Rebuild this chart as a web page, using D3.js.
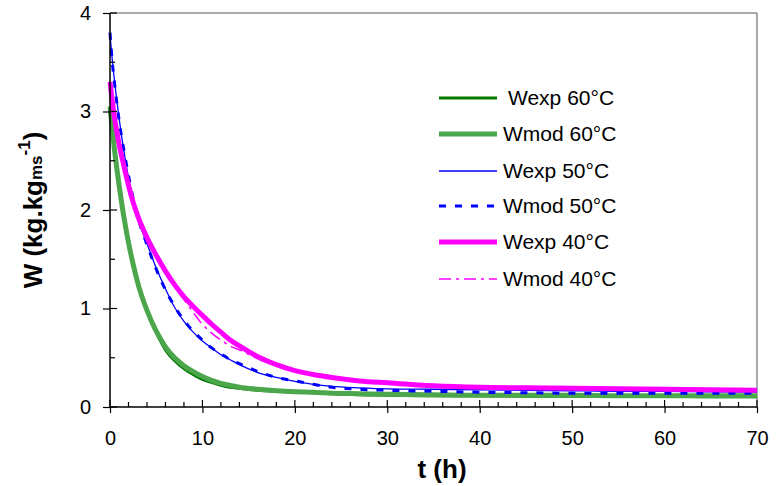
<!DOCTYPE html>
<html>
<head>
<meta charset="utf-8">
<script src="https://cdn.jsdelivr.net/npm/d3@7"></script>
<style>
  html, body { margin: 0; padding: 0; background: #fff; }
  svg { display: block; }
  text { font-family: Arial, "Liberation Sans", sans-serif; fill: #000; }
</style>
</head>
<body>
<svg id="chart" width="776" height="486"></svg>
<script>
// Drying time (h)
const timeH = [0, 0.25, 0.5, 1, 1.5, 2, 2.5, 3, 4, 5, 6, 7, 8, 9, 10, 11, 12, 13, 14, 16, 18, 20, 22, 24, 27, 30, 35, 40, 45, 50, 55, 60, 65, 70];

// Moisture content W (kg/kg dry matter), experimental and model, per temperature
const wExp60 = [3.05, 2.80, 2.60, 2.25, 1.93, 1.66, 1.44, 1.25, 0.98, 0.76, 0.58, 0.47, 0.39, 0.33, 0.28, 0.25, 0.22, 0.20, 0.19, 0.17, 0.16, 0.15, 0.145, 0.14, 0.125, 0.12, 0.115, 0.115, 0.11, 0.11, 0.11, 0.11, 0.105, 0.105];
const wMod60 = [3.05, 2.81, 2.60, 2.24, 1.93, 1.67, 1.45, 1.26, 0.98, 0.77, 0.61, 0.50, 0.42, 0.36, 0.31, 0.27, 0.24, 0.22, 0.20, 0.18, 0.165, 0.155, 0.15, 0.14, 0.135, 0.13, 0.125, 0.12, 0.12, 0.12, 0.115, 0.115, 0.115, 0.115];
const wExp50 = [3.78, 3.52, 3.30, 2.92, 2.60, 2.33, 2.10, 1.92, 1.66, 1.41, 1.20, 1.01, 0.87, 0.76, 0.67, 0.60, 0.53, 0.48, 0.43, 0.35, 0.30, 0.26, 0.23, 0.21, 0.195, 0.185, 0.18, 0.175, 0.17, 0.165, 0.16, 0.16, 0.155, 0.15];
const wMod50 = [3.80, 3.50, 3.28, 2.90, 2.61, 2.35, 2.12, 1.93, 1.65, 1.40, 1.19, 1.02, 0.88, 0.77, 0.68, 0.60, 0.54, 0.48, 0.44, 0.36, 0.30, 0.265, 0.23, 0.20, 0.18, 0.17, 0.16, 0.15, 0.145, 0.14, 0.14, 0.14, 0.14, 0.14];
const wExp40 = [3.30, 3.10, 2.93, 2.66, 2.45, 2.25, 2.08, 1.94, 1.72, 1.54, 1.38, 1.24, 1.12, 1.02, 0.93, 0.84, 0.76, 0.68, 0.62, 0.51, 0.43, 0.37, 0.33, 0.30, 0.265, 0.245, 0.215, 0.20, 0.195, 0.19, 0.185, 0.18, 0.175, 0.17];
const wMod40 = [3.30, 3.09, 2.92, 2.65, 2.43, 2.24, 2.07, 1.93, 1.71, 1.53, 1.37, 1.22, 1.09, 0.96, 0.84, 0.75, 0.68, 0.62, 0.58, 0.49, 0.42, 0.365, 0.325, 0.295, 0.26, 0.24, 0.215, 0.20, 0.195, 0.19, 0.185, 0.18, 0.175, 0.17];

const seriesNames = ["Wexp 60°C", "Wmod 60°C", "Wexp 50°C", "Wmod 50°C", "Wexp 40°C", "Wmod 40°C"];
const seriesValues = [wExp60, wMod60, wExp50, wMod50, wExp40, wMod40];

const xTicks = [0, 10, 20, 30, 40, 50, 60, 70];
const xMinorTicks = d3.range(0, 70.01, 2);
const yTicks = [0, 1, 2, 3, 4];
const yMinorTicks = [0.5, 1.5, 2.5, 3.5];

// Line styles for each series
const styles = [
  { color: "#007a00", width: 3, dash: null },
  { color: "#4ca64c", width: 5, dash: null },
  { color: "#0000ff", width: 1.3, dash: null },
  { color: "#0000ff", width: 3, dash: "7,9" },
  { color: "#ff00ff", width: 5, dash: null },
  { color: "#ff00ff", width: 1.5, dash: "12,5,3,5" }
];

const svg = d3.select("#chart");
const x = d3.scaleLinear().domain([0, 70]).range([110, 757]);
const y = d3.scaleLinear().domain([0, 4]).range([407, 13]);

// Plot frame (top and right)
svg.append("path")
  .attr("d", `M${x(0)},${y(4)}H${x(70)}V${y(0)}`)
  .attr("fill", "none").attr("stroke", "#555").attr("stroke-width", 1);

// Curves
const line = d3.line()
  .x((d, i) => x(timeH[i]))
  .y(d => y(d))
  .curve(d3.curveMonotoneX);

seriesValues.forEach((vals, k) => {
  const s = styles[k];
  svg.append("path")
    .datum(vals)
    .attr("d", line)
    .attr("fill", "none")
    .attr("stroke", s.color)
    .attr("stroke-width", s.width)
    .attr("stroke-dasharray", s.dash)
    .attr("stroke-linejoin", "round");
});

// Axes
const xAxis = svg.append("g")
  .attr("transform", `translate(0,${y(0)})`)
  .call(d3.axisBottom(x).tickValues(xTicks).tickSize(6).tickPadding(18).tickFormat(d3.format("d")));
const yAxis = svg.append("g")
  .attr("transform", `translate(${x(0)},0)`)
  .call(d3.axisLeft(y).tickValues(yTicks).tickSize(7).tickPadding(12).tickFormat(d3.format("d")));

[xAxis, yAxis].forEach(g => {
  g.select(".domain").attr("stroke", "#000").attr("stroke-width", 1.5);
  g.selectAll(".tick line").attr("stroke", "#000").attr("stroke-width", 1.2);
  g.selectAll(".tick text").attr("font-size", 20).attr("font-family", "Arial, 'Liberation Sans', sans-serif").attr("fill", "#000");
});
yAxis.select(".domain").attr("d", `M0,${y(4)}V${y(0)}`);
xAxis.select(".domain").attr("d", `M${x(0)},0H${x(70)}`);

// Inner ticks (major crossing, minor inside)
svg.append("g").selectAll("line")
  .data(xMinorTicks)
  .join("line")
  .attr("x1", d => x(d)).attr("x2", d => x(d))
  .attr("y1", y(0)).attr("y2", d => y(0) - (d % 10 === 0 ? 7 : 5))
  .attr("stroke", "#000").attr("stroke-width", 1.2);
svg.append("g").selectAll("line")
  .data(yTicks.concat(yMinorTicks))
  .join("line")
  .attr("y1", d => y(d)).attr("y2", d => y(d))
  .attr("x1", x(0)).attr("x2", d => x(0) + (Number.isInteger(d) ? 7 : 5))
  .attr("stroke", "#000").attr("stroke-width", 1.2);

// Axis titles
svg.append("text")
  .attr("x", 442).attr("y", 478)
  .attr("text-anchor", "middle")
  .attr("font-size", 26).attr("font-weight", "bold")
  .text("t (h)");

const yTitle = svg.append("text")
  .attr("transform", "translate(42,210) rotate(-90)")
  .attr("text-anchor", "middle")
  .attr("font-size", 26).attr("font-weight", "bold");
yTitle.append("tspan").text("W (kg.kg");
yTitle.append("tspan").attr("font-size", 17).attr("dy", 0).text("ms");
yTitle.append("tspan").attr("font-size", 17).attr("dy", -12).text("-1");
yTitle.append("tspan").attr("dy", 12).text(")");

// Legend
const legendRows = [98, 134, 171, 206, 242, 279];
const legend = svg.append("g");
seriesNames.forEach((name, k) => {
  const s = styles[k];
  const ly = legendRows[k];
  legend.append("line")
    .attr("x1", 439).attr("x2", 497).attr("y1", ly).attr("y2", ly)
    .attr("stroke", s.color).attr("stroke-width", s.width)
    .attr("stroke-dasharray", s.dash);
  legend.append("text")
    .attr("x", k === 0 ? 508 : 503).attr("y", ly + 7)
    .attr("font-size", 21)
    .text(name);
});
</script>
</body>
</html>
